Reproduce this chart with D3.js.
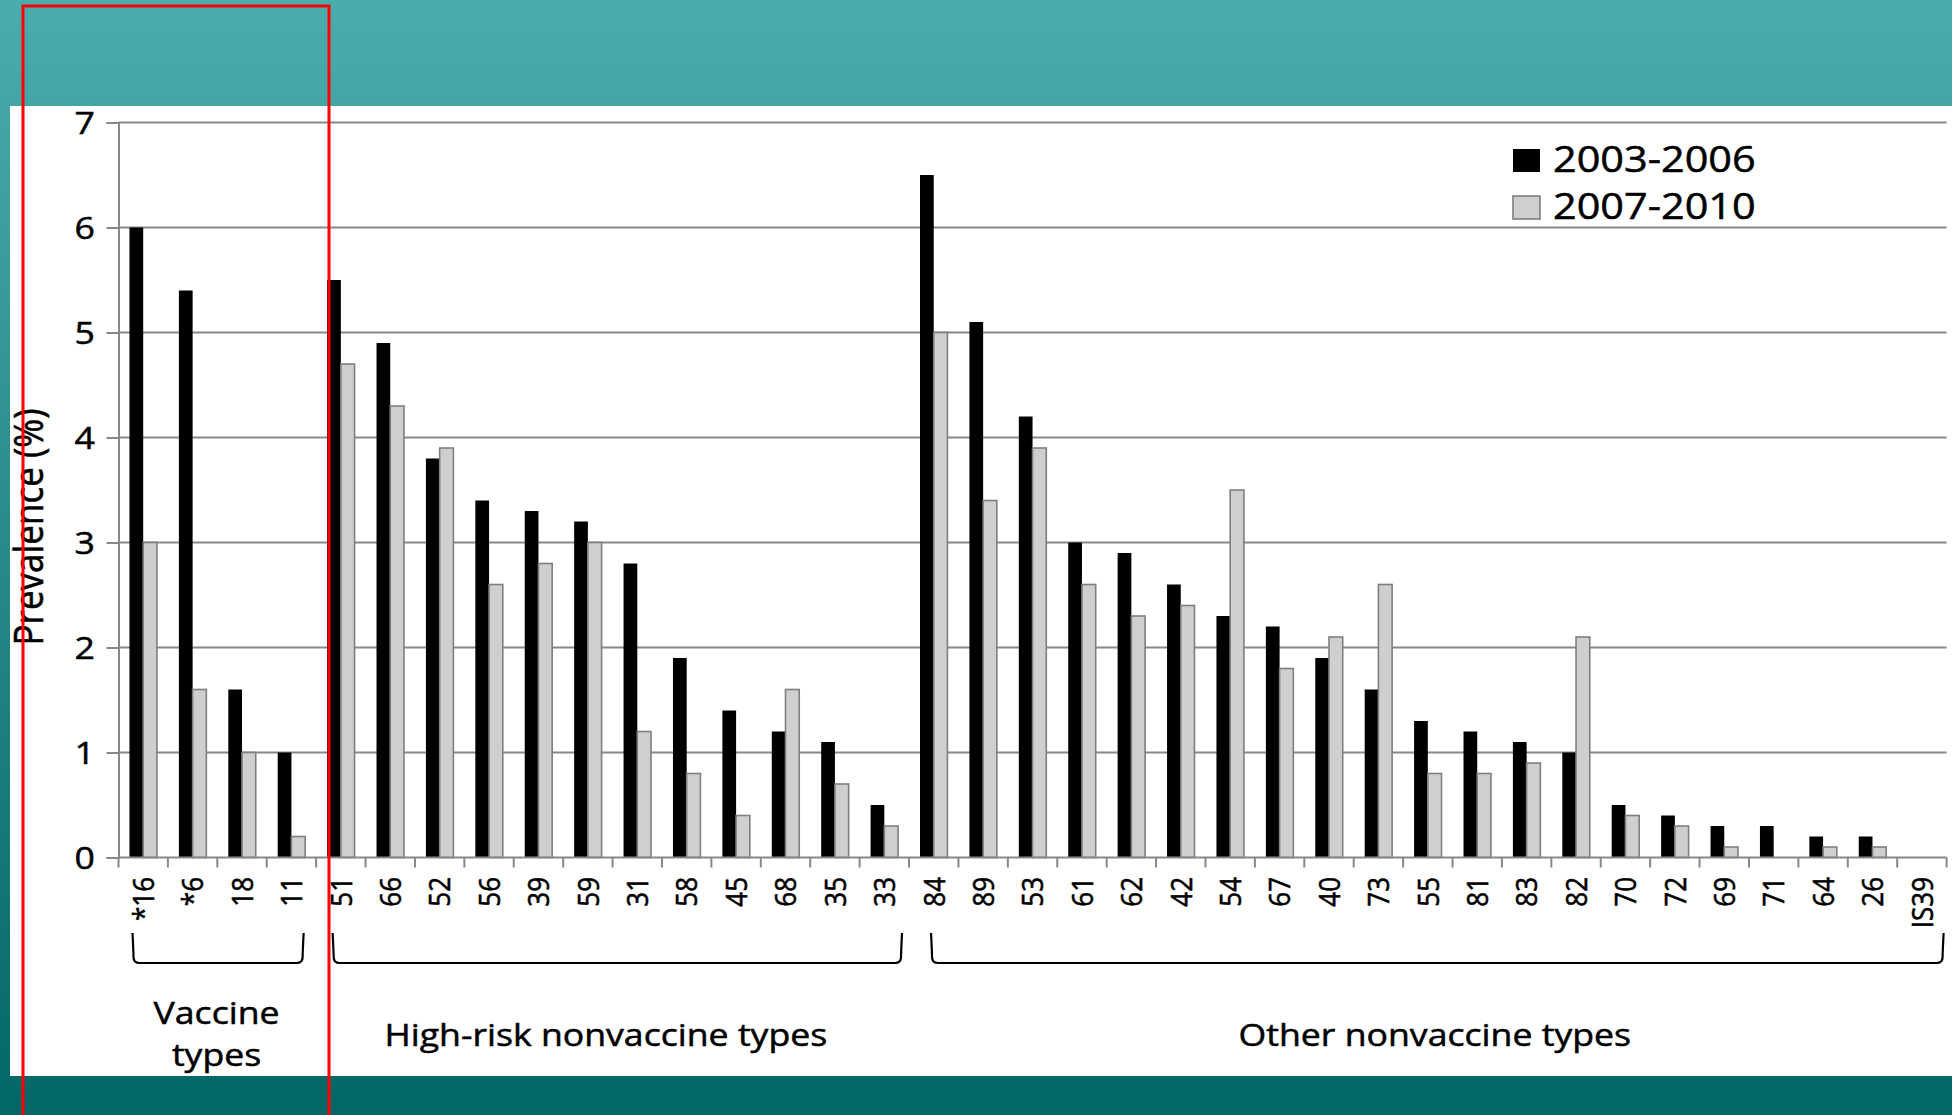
<!DOCTYPE html>
<html>
<head>
<meta charset="utf-8">
<script src="https://cdn.jsdelivr.net/npm/d3@7"></script>
<style>
  html, body { margin: 0; padding: 0; background: #fff; }
  svg { display: block; }
  text { font-family: "Open Sans", "Noto Sans", sans-serif; fill: #000; stroke: #000; stroke-width: 0.5px; }
</style>
</head>
<body>
<svg id="chart" width="1952" height="1115"></svg>
<script>
// HPV type prevalence, two survey periods
const categories = ["*16", "*6", "18", "11",
  "51", "66", "52", "56", "39", "59", "31", "58", "45", "68", "35", "33",
  "84", "89", "53", "61", "62", "42", "54", "67", "40", "73", "55", "81", "83", "82",
  "70", "72", "69", "71", "64", "26", "IS39"];

const series = ["2003-2006", "2007-2010"];

const prev2003 = [6.0, 5.4, 1.6, 1.0,
  5.5, 4.9, 3.8, 3.4, 3.3, 3.2, 2.8, 1.9, 1.4, 1.2, 1.1, 0.5,
  6.5, 5.1, 4.2, 3.0, 2.9, 2.6, 2.3, 2.2, 1.9, 1.6, 1.3, 1.2, 1.1, 1.0,
  0.5, 0.4, 0.3, 0.3, 0.2, 0.2, 0];

const prev2007 = [3.0, 1.6, 1.0, 0.2,
  4.7, 4.3, 3.9, 2.6, 2.8, 3.0, 1.2, 0.8, 0.4, 1.6, 0.7, 0.3,
  5.0, 3.4, 3.9, 2.6, 2.3, 2.4, 3.5, 1.8, 2.1, 2.6, 0.8, 0.8, 0.9, 2.1,
  0.4, 0.3, 0.1, 0, 0.1, 0.1, 0];

const groupNames = [["Vaccine", "types"], ["High-risk nonvaccine types"], ["Other nonvaccine types"]];
const groupFirst = ["*16", "51", "84"];
const groupLast = ["11", "33", "IS39"];

const yTicks = [0, 1, 2, 3, 4, 5, 6, 7];

// ---- layout ----
const W = 1952, H = 1115;
const plotLeft = 118.5, plotRight = 1946.6, plotTop = 122.5, plotBottom = 857.5;
const stretch = 1.15;              // horizontal widening of the lettering
const gridColor = "#888888";
const seriesFill = ["#000000", "#cfcfcf"];
const seriesStroke = ["none", "#7f7f7f"];
const bracketInset = [[14, 12.5], [16.5, 7], [22, 3]];
const labelShift = [-1.5, -11.5, -2.5];

const svg = d3.select("#chart");

// background: teal frame with white chart panel
const defs = svg.append("defs");
const grad = defs.append("linearGradient").attr("id", "frame")
  .attr("x1", 0).attr("y1", 0).attr("x2", 0).attr("y2", 1);
grad.append("stop").attr("offset", "0%").attr("stop-color", "#4aacac");
grad.append("stop").attr("offset", "100%").attr("stop-color", "#046767");
svg.append("rect").attr("width", W).attr("height", H).attr("fill", "url(#frame)");
svg.append("rect").attr("x", 10).attr("y", 106).attr("width", W - 10).attr("height", 1076 - 106).attr("fill", "#fff");

// scales
const x = d3.scaleBand().domain(categories).range([plotLeft, plotRight]).padding(0);
const x1 = d3.scaleBand().domain(series).range([0, x.bandwidth()]).paddingInner(0).paddingOuter(0.8);
const y = d3.scaleLinear().domain([0, 7]).range([plotBottom, plotTop]);

// gridlines
svg.append("g").selectAll("line").data(yTicks.filter(d => d > 0)).join("line")
  .attr("x1", plotLeft).attr("x2", plotRight)
  .attr("y1", d => y(d)).attr("y2", d => y(d))
  .attr("stroke", gridColor).attr("stroke-width", 2);

// bars
const rows = categories.map((c, i) => ({ c, v: [prev2003[i], prev2007[i]] }));
const cat = svg.append("g").selectAll("g").data(rows).join("g")
  .attr("transform", d => `translate(${x(d.c)},0)`);
cat.selectAll("rect")
  .data(d => series.map((s, k) => ({ s, k, v: d.v[k] })).filter(e => e.v > 0))
  .join("rect")
  .attr("x", e => x1(e.s))
  .attr("width", x1.bandwidth())
  .attr("y", e => y(e.v))
  .attr("height", e => y(0) - y(e.v))
  .attr("fill", e => seriesFill[e.k])
  .attr("stroke", e => seriesStroke[e.k])
  .attr("stroke-width", 1.6);

// y axis
const yAxis = svg.append("g").attr("transform", `translate(${plotLeft},0)`)
  .call(d3.axisLeft(y).tickValues(yTicks).tickSize(12).tickFormat(d3.format("d")));
yAxis.select(".domain").attr("stroke", gridColor).attr("stroke-width", 2);
yAxis.selectAll(".tick line").attr("stroke", gridColor).attr("stroke-width", 2);
yAxis.selectAll(".tick text").remove();
svg.append("g").selectAll("text").data(yTicks).join("text")
  .attr("transform", d => `translate(95,${y(d)}) scale(${stretch},1)`)
  .attr("text-anchor", "end").attr("dy", "0.36em")
  .style("font-size", "31px")
  .text(d => d);

// x axis line and tick marks at category boundaries
svg.append("line").attr("x1", plotLeft).attr("x2", plotRight)
  .attr("y1", plotBottom).attr("y2", plotBottom)
  .attr("stroke", gridColor).attr("stroke-width", 2);
const bounds = categories.map(c => x(c)).concat([x(categories[categories.length - 1]) + x.bandwidth()]);
svg.append("g").selectAll("line").data(bounds).join("line")
  .attr("x1", d => d).attr("x2", d => d)
  .attr("y1", plotBottom).attr("y2", plotBottom + 10)
  .attr("stroke", gridColor).attr("stroke-width", 2);

// category labels, vertical
svg.append("g").selectAll("text").data(categories).join("text")
  .attr("transform", d => `translate(${x(d) + x.bandwidth() / 2},877) scale(${stretch},1) rotate(-90)`)
  .attr("text-anchor", "end").attr("dy", "0.36em")
  .style("font-size", "26px")
  .text(d => d);

// group brackets and names
const bracketTop = 933, bracketBottom = 963, r = 6;
groupNames.forEach((name, g) => {
  const x0 = x(groupFirst[g]) + bracketInset[g][0];
  const x2 = x(groupLast[g]) + x.bandwidth() - bracketInset[g][1];
  const p = d3.path();
  p.moveTo(x0, bracketTop);
  p.quadraticCurveTo(x0 + 1, bracketBottom - r - 4, x0 + 1, bracketBottom - r);
  p.quadraticCurveTo(x0 + 1, bracketBottom, x0 + r + 1, bracketBottom);
  p.lineTo(x2 - r - 1, bracketBottom);
  p.quadraticCurveTo(x2 - 1, bracketBottom, x2 - 1, bracketBottom - r);
  p.quadraticCurveTo(x2 - 1, bracketBottom - r - 4, x2, bracketTop);
  svg.append("path").attr("d", p.toString())
    .attr("fill", "none").attr("stroke", "#000").attr("stroke-width", 2.2);

  const cx = (x0 + x2) / 2 + labelShift[g];
  const lines = name;
  const firstBase = lines.length > 1 ? 1024 : 1046;
  lines.forEach((ln, j) => {
    svg.append("text")
      .attr("transform", `translate(${cx},${firstBase + j * 42}) scale(${stretch},1)`)
      .attr("text-anchor", "middle")
      .style("font-size", "31px")
      .text(ln);
  });
});

// y axis title
svg.append("text")
  .attr("transform", `translate(43,527) scale(${stretch},1) rotate(-90)`)
  .attr("text-anchor", "middle")
  .style("font-size", "35px")
  .text("Prevalence (%)");

// legend
const legend = svg.append("g");
series.forEach((s, k) => {
  const top = k === 0 ? 149 : 196;
  legend.append("rect").attr("x", 1513).attr("y", top).attr("width", 27).attr("height", 23)
    .attr("fill", seriesFill[k]).attr("stroke", k === 0 ? "none" : seriesStroke[k]).attr("stroke-width", 1.6);
  legend.append("text")
    .attr("transform", `translate(1553,${top + 23}) scale(${stretch},1)`)
    .style("font-size", "36px")
    .text(s);
});

// highlight frame
svg.append("rect").attr("x", 23).attr("y", 6).attr("width", 306).attr("height", 1130)
  .attr("fill", "none").attr("stroke", "#ff0000").attr("stroke-width", 3);
</script>
</body>
</html>
